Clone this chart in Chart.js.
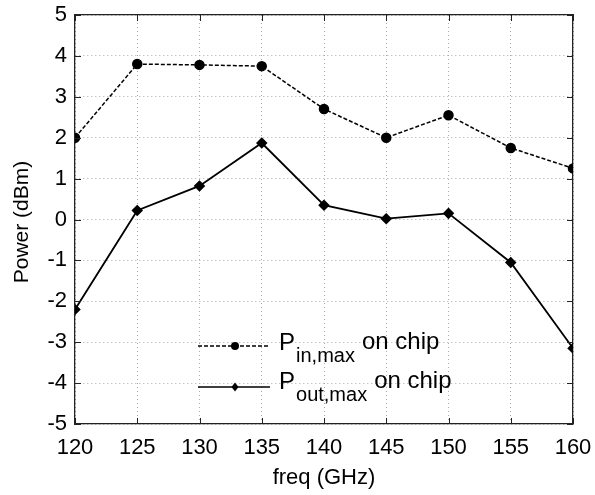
<!DOCTYPE html>
<html>
<head>
<meta charset="utf-8">
<script src="https://cdn.jsdelivr.net/npm/chart.js@4.4.0/dist/chart.umd.min.js"></script>
<style>
  html, body { margin: 0; padding: 0; background: #fff; }
  #wrap { width: 595px; height: 495px; }
</style>
</head>
<body>
<div id="wrap"><canvas id="myChart" width="595" height="495"></canvas></div>
<script>
var freqs = [120, 125, 130, 135, 140, 145, 150, 155, 160];
var pin = [2.0, 3.8, 3.78, 3.75, 2.7, 2.0, 2.55, 1.75, 1.25];
var pout = [-2.2, 0.22, 0.82, 1.87, 0.35, 0.02, 0.15, -1.05, -3.15];
var xTicks = [120, 125, 130, 135, 140, 145, 150, 155, 160];
var yTicks = [-5, -4, -3, -2, -1, 0, 1, 2, 3, 4, 5];

function toPoints(xs, ys) {
  var pts = [];
  for (var i = 0; i < xs.length; i++) {
    pts.push({ x: xs[i], y: ys[i] });
  }
  return pts;
}

var FONT = "Liberation Sans, Arial, sans-serif";

// inner tick marks, y title and a legend with subscripts
var decorPlugin = {
  id: "decor",
  afterDraw: function (chart) {
    var c = chart.ctx;
    var area = chart.chartArea;
    var sx = chart.scales.x, sy = chart.scales.y;
    c.save();
    c.fillStyle = "#222";
    var tl = 6;
    for (var i = 0; i < xTicks.length; i++) {
      var px = Math.round(sx.getPixelForValue(xTicks[i]));
      c.fillRect(px, area.bottom - tl, 1, tl);
      c.fillRect(px, area.top, 1, tl);
    }
    for (var j = 0; j < yTicks.length; j++) {
      var py = Math.round(sy.getPixelForValue(yTicks[j]));
      c.fillRect(area.left, py, tl, 1);
      c.fillRect(area.right - tl, py, tl, 1);
    }

    // legend
    var rows = [
      { sub: "in,max", dash: [4, 2], style: "circle", y: 346, base: 350 },
      { sub: "out,max", dash: [], style: "diamond", y: 387, base: 389 }
    ];
    rows.forEach(function (r) {
      c.strokeStyle = "#000";
      c.lineWidth = 1.5;
      c.setLineDash(r.dash);
      c.beginPath();
      c.moveTo(198, r.y); c.lineTo(270, r.y);
      c.stroke();
      c.setLineDash([]);
      c.fillStyle = "#000";
      c.beginPath();
      if (r.style === "circle") {
        c.arc(235, r.y, 4, 0, Math.PI * 2);
      } else {
        c.moveTo(235, r.y - 4.5); c.lineTo(238.5, r.y);
        c.lineTo(235, r.y + 4.5); c.lineTo(231.5, r.y);
        c.closePath();
      }
      c.fill();
      c.textBaseline = "alphabetic";
      c.textAlign = "left";
      c.font = "24px " + FONT;
      c.fillText("P", 279, r.base);
      var pw = c.measureText("P").width;
      c.font = "20px " + FONT;
      c.fillText(r.sub, 279 + pw + 1, r.base + 12);
      var sw = c.measureText(r.sub).width;
      c.font = "24px " + FONT;
      c.fillText("on chip", 279 + pw + sw + 8, r.base - 1);
    });

    // y title
    c.save();
    c.translate(22, 222);
    c.rotate(-Math.PI / 2);
    c.font = "21px " + FONT;
    c.textAlign = "center";
    c.textBaseline = "middle";
    c.fillText("Power (dBm)", 0, 0);
    c.restore();

    c.restore();
  }
};

var ctx = document.getElementById("myChart");

var data = {
  datasets: [
    {
      label: "Pin",
      data: toPoints(freqs, pin),
      borderColor: "#000",
      backgroundColor: "#000",
      borderWidth: 1.5,
      borderDash: [4, 2],
      pointStyle: "circle",
      pointRadius: 4.5,
      tension: 0
    },
    {
      label: "Pout",
      data: toPoints(freqs, pout),
      borderColor: "#000",
      backgroundColor: "#000",
      borderWidth: 1.8,
      pointStyle: "rectRot",
      pointRadius: 4.5,
      tension: 0
    }
  ]
};

var frameBorder = { display: true, color: "#222", width: 1.3 };

var options = {
  responsive: false,
  animation: false,
  layout: { padding: { left: 0, right: 22, top: 15, bottom: 0 } },
  plugins: {
    legend: { display: false },
    tooltip: { enabled: false }
  },
  scales: {
    x: {
      type: "linear",
      min: 120,
      max: 160,
      afterBuildTicks: function (s) { s.ticks = xTicks.map(function (v) { return { value: v }; }); },
      afterFit: function (s) { s.height = 71; s.paddingLeft = 0; s.paddingRight = 0; },
      grid: { color: "#aaa", lineWidth: 1, drawTicks: false },
      border: { display: true, color: "#222", width: 1.3, dash: [1, 3] },
      ticks: { color: "#000", font: { family: FONT, size: 22 }, padding: 11, maxRotation: 0 },
      title: { display: true, text: "freq (GHz)", color: "#000", font: { family: FONT, size: 22 }, padding: { top: 0 } }
    },
    x2: {
      type: "linear",
      axis: "x",
      position: "top",
      min: 120,
      max: 160,
      afterFit: function (s) { s.height = 0; s.paddingLeft = 0; s.paddingRight = 0; },
      grid: { display: false },
      border: frameBorder,
      ticks: { display: false }
    },
    y: {
      min: -5,
      max: 5,
      afterBuildTicks: function (s) { s.ticks = yTicks.map(function (v) { return { value: v }; }); },
      afterFit: function (s) { s.width = 75; s.paddingTop = 0; s.paddingBottom = 0; },
      grid: { color: "#aaa", lineWidth: 1, drawTicks: false },
      border: { display: true, color: "#222", width: 1.3, dash: [1, 3] },
      ticks: { color: "#000", font: { family: FONT, size: 22 }, padding: 8 }
    },
    y2: {
      type: "linear",
      axis: "y",
      position: "right",
      min: -5,
      max: 5,
      afterFit: function (s) { s.width = 0; s.paddingTop = 0; s.paddingBottom = 0; },
      grid: { display: false },
      border: frameBorder,
      ticks: { display: false }
    }
  }
};

new Chart(ctx, {
  type: "line",
  data: data,
  options: options,
  plugins: [decorPlugin]
});
</script>
</body>
</html>
